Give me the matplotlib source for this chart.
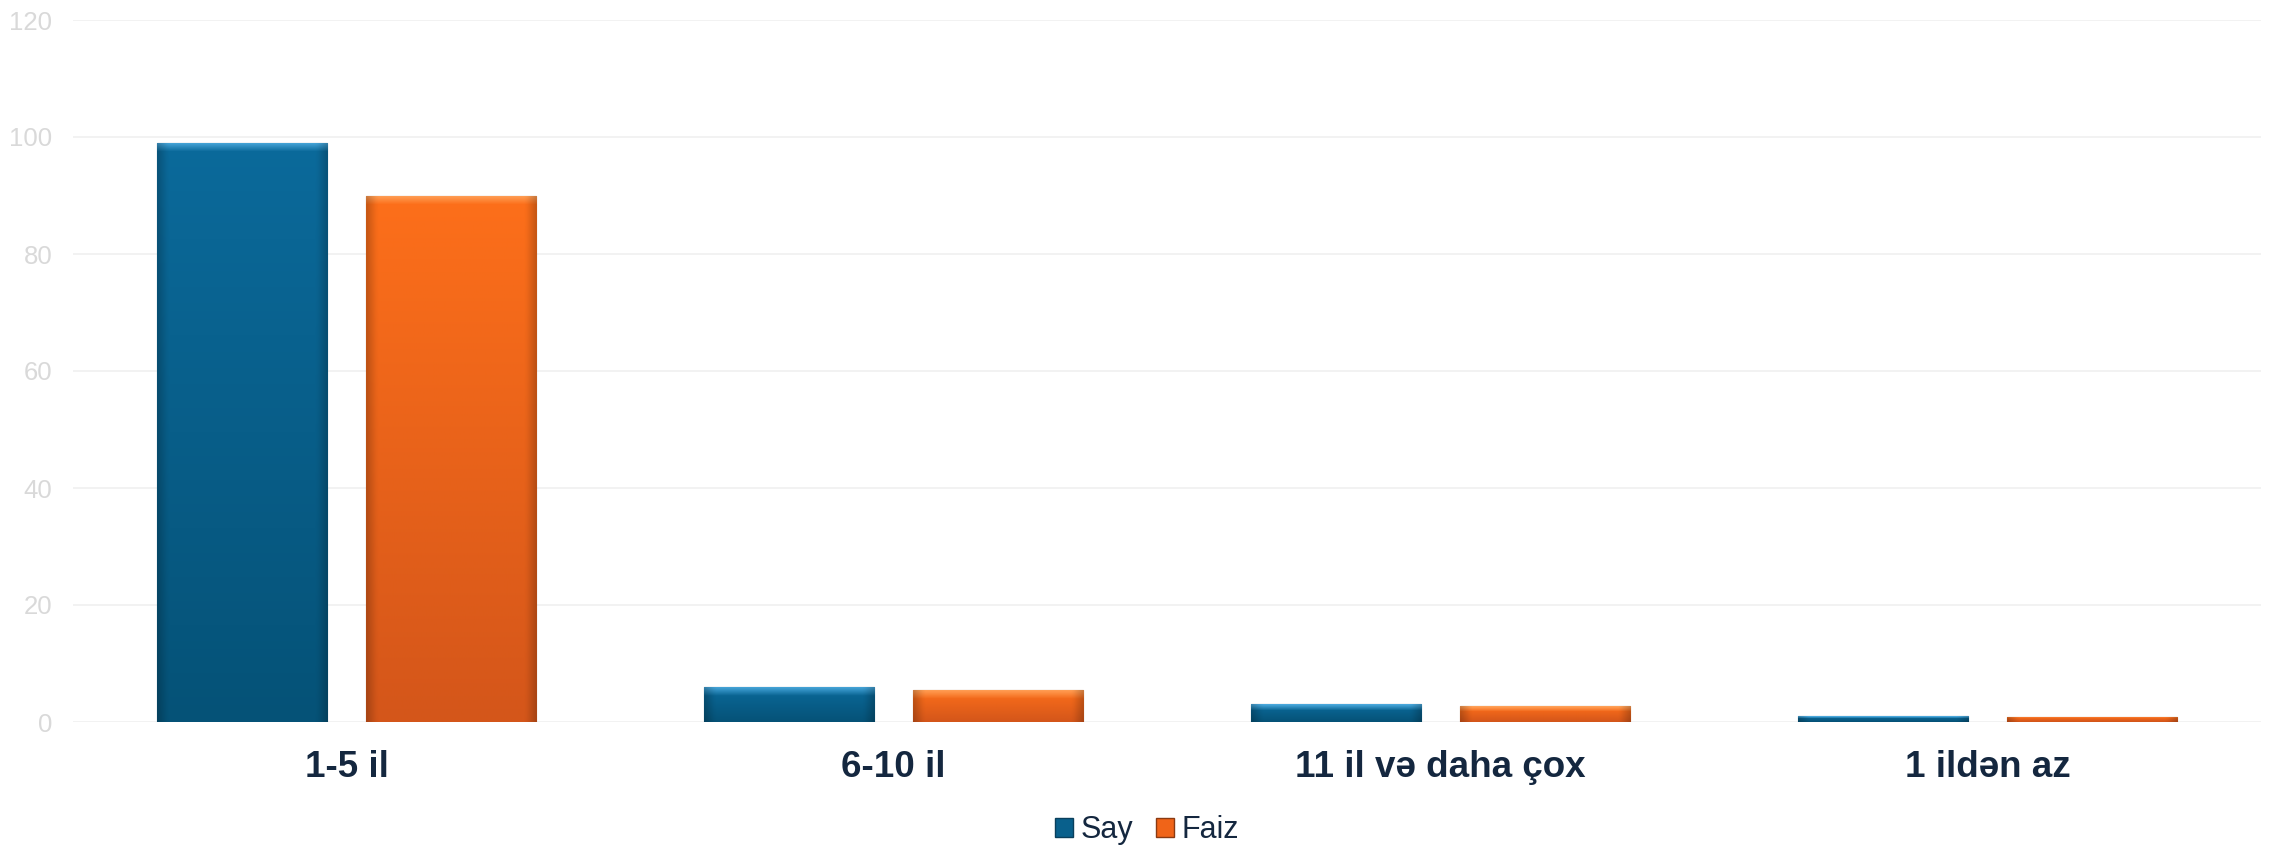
import numpy as np
import matplotlib
matplotlib.use("Agg")
import matplotlib.pyplot as plt
from matplotlib.colors import to_rgb
from matplotlib.patches import Patch

plt.rcParams['font.family'] = ['Liberation Sans', 'DejaVu Sans']

categories = ["1-5 il", "6-10 il", "11 il və daha çox", "1 ildən az"]
say = [99, 6, 3, 1]
faiz = [90, 5.5, 2.7, 0.9]
series_names = ["Say", "Faiz"]
yticks = [0, 20, 40, 60, 80, 100, 120]

W, H = 2272, 848
fig = plt.figure(figsize=(W / 100, H / 100), dpi=100)
ax = fig.add_axes([73 / W, (H - 722) / H, (2261 - 73) / W, (722 - 20) / H])

x = np.arange(len(categories))
bw = 0.311
off = 0.1915

styles = [
    dict(top="#4aa8dc", mid_top="#0b6a9b", bottom="#055277", edge="#0a3f5c"),
    dict(top="#ffa158", mid_top="#fd6f1a", bottom="#d4561a", edge="#8a3a12"),
]

bars_say = ax.bar(x - off, say, bw, color="#09608c", zorder=2, label=series_names[0])
bars_faiz = ax.bar(x + off, faiz, bw, color="#f06418", zorder=2, label=series_names[1])

px_per_unit = 702 / 120.0
for bars, st in [(bars_say, styles[0]), (bars_faiz, styles[1])]:
    for b in bars:
        x0, w, h = b.get_x(), b.get_width(), b.get_height()
        hp = max(int(round(h * px_per_unit)), 3)
        t = np.linspace(0, 1, hp)[:, None]
        c1 = np.array(to_rgb(st["mid_top"]))
        c2 = np.array(to_rgb(st["bottom"]))
        img = c1 * (1 - t) + c2 * t
        k = min(9, max(1, hp // 3))
        hi = np.array(to_rgb(st["top"]))
        for i in range(k):
            f = 1 - i / k
            img[i] = hi * f + img[i] * (1 - f)
        cols = 60
        xs = np.linspace(0, 1, cols)
        side = np.clip(np.minimum(xs, 1 - xs) / 0.06, 0, 1)
        shade = 0.8 + 0.2 * side
        full = img[:, None, :] * shade[None, :, None]
        im = ax.imshow(full, extent=[x0, x0 + w, 0, h], aspect="auto",
                       interpolation="bilinear", zorder=3, origin="upper")
        im.set_clip_path(b)
        b.set_edgecolor(st["edge"])
        b.set_linewidth(0.8)

ax.set_xlim(-0.5, 3.5)
ax.set_ylim(0, 120)
ax.set_yticks(yticks)
ax.set_yticklabels([str(v) for v in yticks])
ax.set_xticks(x)
ax.set_xticklabels(categories, fontsize=26.5, fontweight="bold", color="#14273f")
ax.tick_params(axis="y", length=0, pad=15, labelsize=18.5, labelcolor="#d9d9d9")
ax.tick_params(axis="x", length=0, pad=20)
ax.grid(axis="y", color="#f0f0f0", linewidth=1.2, zorder=0)
ax.set_axisbelow(True)
for s in ax.spines.values():
    s.set_visible(False)

handles = [Patch(facecolor="#09608c", edgecolor="#0a3f5c"),
           Patch(facecolor="#f06418", edgecolor="#8a3a12")]
fig.legend(handles, series_names, loc="center", bbox_to_anchor=(1147 / W, 1 - 830 / H),
           ncol=2, frameon=False, fontsize=22, labelcolor="#14273f",
           handlelength=0.6, handleheight=0.6, handletextpad=0.25, columnspacing=0.75)

fig.savefig("out.png", dpi=100)
